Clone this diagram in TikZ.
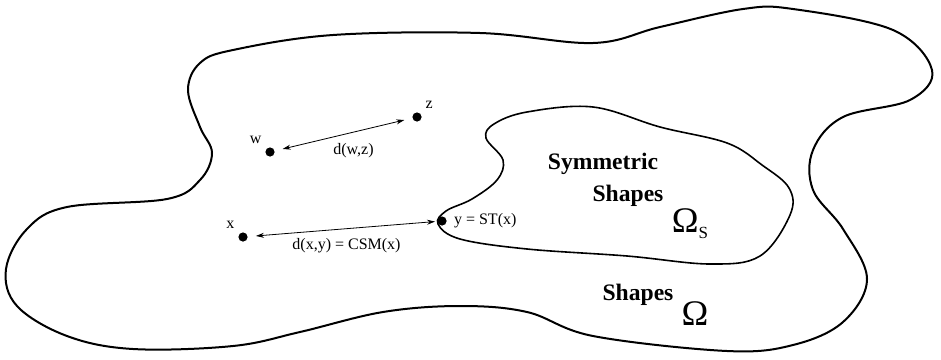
\documentclass[tikz,border=0pt]{standalone}
\usepackage{fontspec}
\setmainfont{Liberation Serif}
\usetikzlibrary{arrows.meta,positioning}

\begin{document}
\begin{tikzpicture}[x=0.5pt, y=-0.5pt, >={Stealth[length=4pt,width=2.5pt]},
    every node/.style={font=\fontsize{8}{9}\selectfont},
    pt/.style={circle, fill=black, inner sep=0pt, minimum size=4.6pt},
    lbl/.style={font=\fontsize{11.8}{13}\selectfont\bfseries}]
    \useasboundingbox (0,0) rectangle (941,359);

    % outer set of shapes
    \draw[line width=1pt] plot[smooth cycle, tension=0.6] coordinates {
        (480,33) (593,43) (660,27) (743,9) (793,9) (893,30) (932,70) (910,100)
        (843,117) (813,150) (813,190) (843,229) (867,279) (843,322) (793,345)
        (727,351) (593,336) (527,312) (460,306) (383,312) (300,332) (233,346)
        (133,349) (67,336) (17,306) (6,269) (27,229) (67,207) (167,199)
        (200,180) (212,153) (200,127) (188,90) (200,63) (233,50) (333,35)};

    % symmetric shapes
    \draw[line width=0.8pt] plot[smooth cycle, tension=0.6] coordinates {
        (486,138) (503,160) (497,180) (472,199) (446,211) (438,224) (460,239)
        (527,249) (627,256) (710,264) (760,256) (790,215) (789,188) (762,165)
        (727,143) (660,127) (593,107) (527,112) (494,124)};

    % points
    \node[pt] (w) at (270,152) {};
    \node[pt] (z) at (417,117) {};
    \node[pt] (x) at (243,237) {};
    \node[pt] (y) at (442,221) {};

    \node[above left=-1pt and -1pt of w] (wl) {w};
    \node[above right=-1pt and -1pt of z] (zl) {z};
    \node[above left=-1pt and -1pt of x] (xl) {x};
    \node[right=0pt of y] (yl) {y = ST(x)};

    \draw[<->, thin, shorten <=4pt, shorten >=4pt] (w) -- (z)
        node[midway, below=1pt, xshift=5pt] (dwz) {d(w,z)};
    \draw[<->, thin, shorten <=4pt, shorten >=1pt] (x) -- (y)
        node[midway, below=1pt, xshift=2pt] (dxy) {d(x,y) = CSM(x)};

    \node[lbl] (sym) at (603,164) {Symmetric};
    \node[lbl] (symsh) at (628,196) {Shapes};
    \node[font=\fontsize{18}{19}\selectfont] (omegas) at (690,224) {Ω\raisebox{-3pt}{\fontsize{8.5}{9}\selectfont S}};
    \node[lbl] (sh) at (638,295) {Shapes};
    \node[font=\fontsize{18}{19}\selectfont] (omega) at (695,314) {Ω};
\end{tikzpicture}
\end{document}
